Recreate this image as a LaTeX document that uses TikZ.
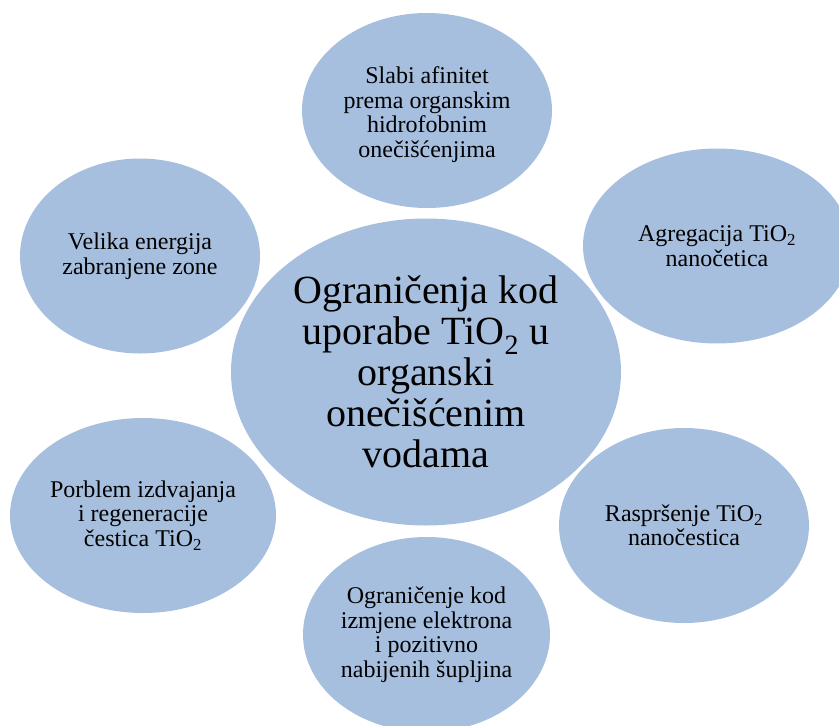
\documentclass[tikz,border=0pt]{standalone}
\usepackage{fontspec}
\setmainfont{Liberation Serif}
\usetikzlibrary{shapes.geometric}
\definecolor{bubble}{HTML}{A7BFDE}
\tikzset{
  bub/.style={ellipse, fill=bubble, draw=none, inner sep=-40pt, align=center,
    font=\fontsize{24}{24.5}\selectfont, text=black},
  hub/.style={ellipse, fill=bubble, draw=none, inner sep=-40pt, align=center,
    font=\fontsize{40}{41}\selectfont, text=black}
}
\begin{document}
\begin{tikzpicture}[x=1pt,y=-1pt]
\useasboundingbox (0,0) rectangle (839,726);
\clip (0,0) rectangle (839,726);
\node[hub, minimum width=390pt, minimum height=307pt] (c) at (426,372)
  {Ograničenja kod\\uporabe TiO\textsubscript{2} u\\organski\\onečišćenim\\vodama};
\node[bub, minimum width=250pt, minimum height=195pt, text height=99pt] (t) at (427,110.5)
  {Slabi afinitet\\prema organskim\\hidrofobnim\\onečišćenjima};
\node[bub, minimum width=240pt, minimum height=195pt] (tl) at (140,256)
  {Velika energija\\zabranjene zone};
\node[bub, minimum width=268pt, minimum height=195pt] (tr) at (717,246)
  {Agregacija TiO\textsubscript{2}\\nanočetica};
\node[bub, minimum width=266pt, minimum height=195pt] (bl) at (143,515.5)
  {Porblem izdvajanja\\i regeneracije\\čestica TiO\textsubscript{2}};
\node[bub, minimum width=250pt, minimum height=195pt] (br) at (684,525.5)
  {Raspršenje TiO\textsubscript{2}\\nanočestica};
\node[bub, minimum width=247pt, minimum height=195pt] (b) at (426.5,634.5)
  {Ograničenje kod\\izmjene elektrona\\i pozitivno\\nabijenih šupljina};
\end{tikzpicture}
\end{document}
